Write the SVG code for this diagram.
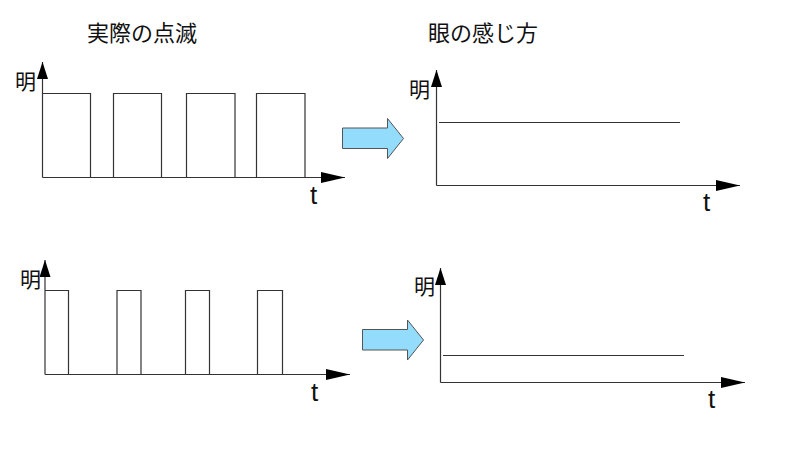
<svg xmlns="http://www.w3.org/2000/svg" width="800" height="460" viewBox="0 0 800 460">
<style>
.axis{stroke:#333;stroke-width:1.2;fill:none}
.sig{stroke:#333;stroke-width:1.2;fill:none}
.title{font-family:"Liberation Serif","Noto Sans CJK JP",serif;font-size:22px;fill:#111}
.ylab{font-family:"Liberation Serif","Noto Sans CJK JP",serif;font-size:21px;fill:#111}
.tlab{font-family:"Liberation Sans",sans-serif;font-size:26px;fill:#111}
.block{fill:#94dcfb;stroke:#555;stroke-width:1}
</style>
<defs>
<marker id="arrV" markerUnits="userSpaceOnUse" markerWidth="17" markerHeight="11" refX="17" refY="5.5" orient="auto"><path d="M0,0 L17,5.5 L0,11 z" fill="#000"/></marker>
<marker id="arrH" markerUnits="userSpaceOnUse" markerWidth="24" markerHeight="11" refX="24" refY="5.5" orient="auto"><path d="M0,0 L24,5.5 L0,11 z" fill="#000"/></marker>
</defs>
<rect width="800" height="460" fill="#fff"/>
<g id="titles">
<text class="title" x="87" y="41">実際の点滅</text>
<text class="title" x="428" y="41">眼の感じ方</text>
</g>
<g id="graph-actual-1">
<line class="axis" x1="42.5" y1="177.5" x2="42.5" y2="62" marker-end="url(#arrV)"/>
<line class="axis" x1="42.5" y1="177.5" x2="345" y2="177.5" marker-end="url(#arrH)"/>
<path class="sig" d="M42.5,93.5 H90.5 V177.5 M113.5,177.5 V93.5 H161.5 V177.5 M186.5,177.5 V93.5 H235 V177.5 M256.5,177.5 V93.5 H305 V177.5"/>
<text class="ylab" x="15" y="89">明</text>
<text class="tlab" x="310" y="204">t</text>
</g>
<g id="graph-perceived-1">
<line class="axis" x1="436.5" y1="185.5" x2="436.5" y2="70" marker-end="url(#arrV)"/>
<line class="axis" x1="436.5" y1="185.5" x2="740" y2="185.5" marker-end="url(#arrH)"/>
<line class="sig" x1="439" y1="122.5" x2="680" y2="122.5"/>
<text class="ylab" x="409" y="97">明</text>
<text class="tlab" x="703" y="211">t</text>
</g>
<g id="graph-actual-2">
<line class="axis" x1="45" y1="374.5" x2="45" y2="260" marker-end="url(#arrV)"/>
<line class="axis" x1="45" y1="374.5" x2="350" y2="374.5" marker-end="url(#arrH)"/>
<path class="sig" d="M45,290.5 H68.5 V374.5 M117,374.5 V290.5 H141 V374.5 M185.5,374.5 V290.5 H209.5 V374.5 M257.5,374.5 V290.5 H282.5 V374.5"/>
<text class="ylab" x="20" y="287">明</text>
<text class="tlab" x="311" y="401">t</text>
</g>
<g id="graph-perceived-2">
<line class="axis" x1="440.5" y1="382.5" x2="440.5" y2="268" marker-end="url(#arrV)"/>
<line class="axis" x1="440.5" y1="382.5" x2="745" y2="382.5" marker-end="url(#arrH)"/>
<line class="sig" x1="443" y1="355.5" x2="684" y2="355.5"/>
<text class="ylab" x="414" y="294">明</text>
<text class="tlab" x="708" y="408">t</text>
</g>
<g id="connectors">
<g id="block-arrow-1"><path class="block" d="M342.5,128 H387.5 V118.5 L403.5,138.5 L387.5,158.5 V148.5 H342.5 Z"/></g>
<g id="block-arrow-2"><path class="block" d="M362.5,329.5 H407.5 V320 L423.5,340 L407.5,360 V350 H362.5 Z"/></g>
</g>
</svg>
